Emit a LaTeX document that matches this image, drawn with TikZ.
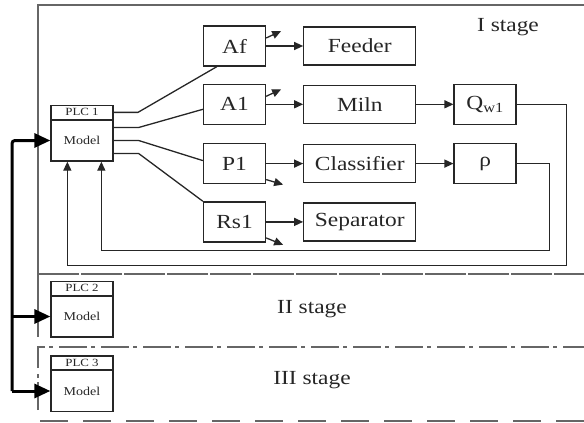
\documentclass[tikz,border=0pt]{standalone}
\usepackage{fontspec}
\setmainfont{Liberation Serif}[FakeStretch=1.17]
\usetikzlibrary{shapes, positioning, calc, arrows.meta}
\definecolor{linecol}{gray}{0.15}
\definecolor{framecol}{gray}{0.4}

\begin{document}
\begin{tikzpicture}[x=1pt, y=-1pt, line width=1.3pt, draw=linecol, text=linecol,
                    font=\fontsize{20}{22}\selectfont,
                    block/.style = {draw, rectangle, minimum width=62pt, minimum height=40pt, inner sep=0pt},
                    unit/.style = {draw, rectangle, minimum width=112pt, minimum height=38pt, inner sep=0pt},
                    plcbody/.style = {draw, rectangle, minimum width=62pt, minimum height=41pt, inner sep=0pt,
                        font=\fontsize{12}{13}\selectfont},
                    plchead/.style = {draw, rectangle, minimum width=62pt, minimum height=14pt, inner sep=0pt,
                        font=\fontsize{11}{11}\selectfont},
                    frame/.style = {draw=framecol, line width=1.6pt},
                    arr/.style = {-{Triangle[length=9pt, width=8pt]}},
                    bus/.style = {line width=3pt, draw=black, rounded corners=3pt,
                        -{Triangle[length=16pt, width=14pt]}}]
    \useasboundingbox (0,0) rectangle (584,423);

    \draw[frame] (584,5) -- (38,5) -- (38,337);
    \draw[frame, dash pattern=on 41pt off 2pt] (38,274) -- (584,274);
    \draw[frame, dash pattern=on 28pt off 4pt on 4pt off 6pt] (38,410) -- (38,347) -- (584,347);
    \draw[frame, dash pattern=on 28pt off 15pt] (40,421) -- (584,421);

    \node[block] (Af) at (234.5,46) {Af};
    \node[block] (A1) [below=17pt of Af] {A1};
    \node[block] (P1) [below=18pt of A1] {P1};
    \node[block] (Rs1) [below=17pt of P1] {Rs1};

    \node[unit] (feeder) [right=37pt of Af] {Feeder};
    \node[unit] (miln) [right=37pt of A1] {Miln};
    \node[unit] (classifier) [right=37pt of P1] {Classifier};
    \node[unit] (separator) [right=37pt of Rs1] {Separator};

    \node[block] (Qw1) [right=37pt of miln] {Q\textsubscript{w1}};
    \node[block] (rho) [right=37pt of classifier] {ρ};

    \node[plcbody] (plc1) at (82,140.5) {Model};
    \node[plchead] (plc1h) [above=0pt of plc1, outer sep=0pt] {PLC 1};
    \node[plcbody] (plc2) at (82,316.5) {Model};
    \node[plchead] (plc2h) [above=0pt of plc2, outer sep=0pt] {PLC 2};
    \node[plcbody] (plc3) at (82,391) {Model};
    \node[plchead] (plc3h) [above=0pt of plc3, outer sep=0pt] {PLC 3};

    \node (st1) at (508,27) {I stage};
    \node (st2) at (312,309) {II stage};
    \node (st3) at (312,380) {III stage};

    \draw (plc1h.east) -- ++(25,0) -- ($(Af.south west)+(14,0)$);
    \draw ($(plc1.east)+(0,-13)$) -- ++(25,0) -- ($(A1.west)+(0,5)$);
    \draw (plc1.east) -- ++(25,0) -- ($(P1.west)+(0,-3)$);
    \draw ($(plc1.east)+(0,13)$) -- ++(25,0) -- (Rs1.north west);

    \draw[arr] (Af) -- (feeder);
    \draw[arr] (A1) -- (miln);
    \draw[arr] (P1) -- (classifier);
    \draw[arr] (Rs1) -- (separator);
    \draw[arr] (miln) -- (Qw1);
    \draw[arr] (classifier) -- (rho);

    \draw[arr] ($(Af.east)+(0,-8)$) -- ++(15,-7);
    \draw[arr] ($(A1.east)+(0,-8)$) -- ++(15,-7);
    \draw[arr] ($(P1.east)+(0,16)$) -- ++(17,5);
    \draw[arr] ($(Rs1.east)+(0,16)$) -- ++(17,7);

    \draw[arr] (Qw1.east) -- ++(50,0) -- ++(0,161) -| ($(plc1.south west)+(17,0)$);
    \draw[arr] (rho.east) -- ++(33,0) -- ++(0,87) -| ($(plc1.south west)+(51,0)$);

    \coordinate (busend) at (12,391);
    \draw[bus] (busend) |- (plc1.west);
    \draw[bus] (busend |- plc2.west) -- (plc2.west);
    \draw[bus] (busend) -- (plc3.west);
\end{tikzpicture}
\end{document}
